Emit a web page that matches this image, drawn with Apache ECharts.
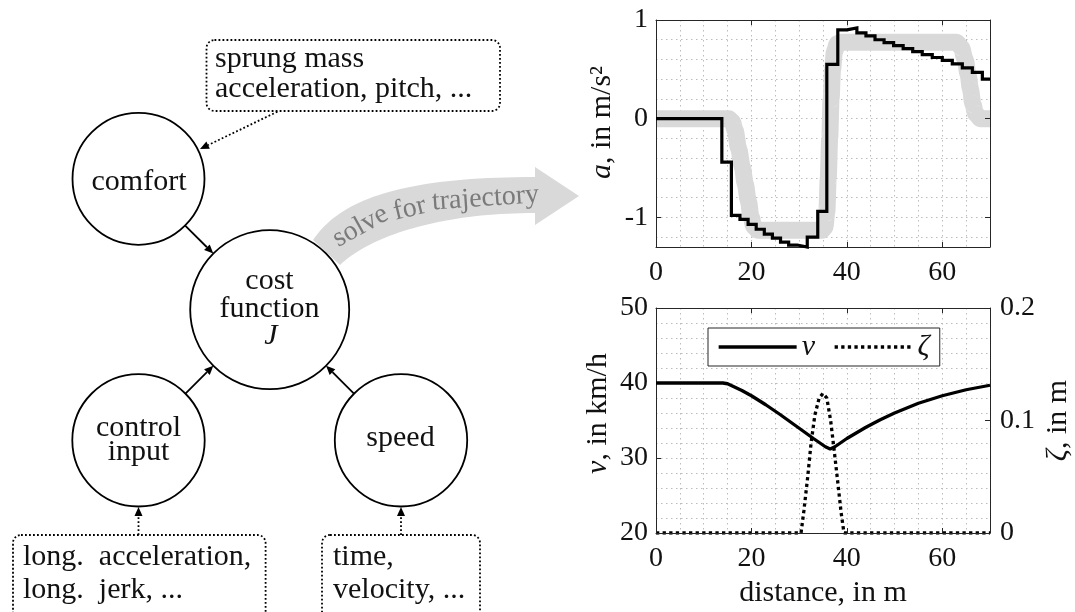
<!DOCTYPE html>
<html><head><meta charset="utf-8">
<script src="https://cdn.jsdelivr.net/npm/echarts@6/dist/echarts.min.js"></script>
<style>html,body{margin:0;padding:0;background:#fff}#c{width:1075px;height:612px}</style>
</head><body><div id="c"></div>
<script>
// ---------- data ----------
// acceleration command (step-wise), distance in m / value in m/s^2
const accX = [0, 13.8, 15.8, 17.6, 19.3, 21.0, 22.7, 24.4, 26.1, 27.8, 29.6, 31.7, 33.9, 35.8, 38.1, 40.0, 42.1, 44.0, 45.9, 47.8, 49.8, 51.8, 53.8, 55.8, 57.9, 60.0, 62.1, 64.2, 66.3, 68.4, 70];
const accY = [0, -0.44, -0.98, -1.02, -1.07, -1.12, -1.17, -1.21, -1.25, -1.28, -1.30, -1.20, -0.94, 0.55, 0.90, 0.92, 0.87, 0.84, 0.80, 0.77, 0.74, 0.71, 0.68, 0.65, 0.62, 0.59, 0.555, 0.515, 0.47, 0.40, 0.40];
// smooth reference acceleration (thick grey band)
const refX = [0, 15.3, 16.0, 16.6, 17.3, 18.1, 18.7, 19.35, 19.9, 20.5, 21.3, 34.8, 35.4, 35.8, 36.1, 36.4, 36.7, 37.0, 37.4, 38.0, 38.8, 63.0, 64.0, 64.8, 65.4, 65.9, 66.4, 67.0, 68.0, 70];
const refY = [0, 0, -0.03, -0.12, -0.30, -0.49, -0.66, -0.83, -0.99, -1.09, -1.13, -1.13, -1.10, -0.95, -0.60, -0.20, 0.20, 0.50, 0.68, 0.76, 0.775, 0.775, 0.72, 0.60, 0.45, 0.30, 0.15, 0.05, 0, 0];
// speed v in km/h
const vX = [0, 14.0, 15.0, 16.0, 18.0, 20.0, 23.0, 26.0, 29.5, 33.0, 35.5, 36.5, 37.5, 40.0, 44.0, 47.0, 50.0, 55.0, 60.0, 65.0, 70.0];
const vY = [40, 40, 39.9, 39.6, 39.0, 38.3, 37.1, 35.8, 34.2, 32.6, 31.5, 31.2, 31.5, 32.6, 34.1, 35.1, 36.0, 37.3, 38.3, 39.1, 39.7];
// road profile zeta in m
const zetaX = [0, 30.4, 31.0, 31.8, 32.5, 33.3, 34.2, 35.0, 35.8, 36.6, 37.3, 38.1, 38.8, 39.4, 70];
const zetaY = [0, 0, 0.02, 0.05, 0.08, 0.105, 0.12, 0.124, 0.12, 0.10, 0.075, 0.045, 0.018, 0, 0];

const zip = (xs, ys) => xs.map((x, i) => [x, ys[i]]);

// ---------- styles ----------
const FONT = 'Liberation Serif', AX = '#262626', TXT = '#111', GRIDC = '#bcbcbc';
function visAxis(o) {
  return Object.assign({
    type: 'value', z: 3,
    axisLine: {show: true, onZero: false, lineStyle: {color: AX, width: 1}},
    axisTick: {show: true, inside: true, length: 5, lineStyle: {color: AX, width: 1}},
    axisLabel: {show: false}, splitLine: {show: false}
  }, o);
}
function gridAxis(o) {
  return Object.assign({
    type: 'value',
    axisLine: {show: false, onZero: false}, axisTick: {show: false}, axisLabel: {show: false},
    splitLine: {show: true, lineStyle: {color: GRIDC, width: 1, type: [1.5, 3.5]}}
  }, o);
}
const lab = o => Object.assign({show: true, fontFamily: FONT, fontSize: 28, color: TXT}, o);
const nameStyle = o => Object.assign({fontFamily: FONT, fontSize: 30, color: TXT,
  rich: {i: {fontFamily: FONT, fontSize: 30, fontStyle: 'italic', color: TXT}}}, o);

// ---------- diagram (left) ----------
const els = [];
function cubic(p0, p1, p2, p3, n) {
  const out = [];
  for (let i = 0; i <= n; i++) {
    const t = i / n, u = 1 - t;
    out.push([0, 1].map(k => u*u*u*p0[k] + 3*u*u*t*p1[k] + 3*u*t*t*p2[k] + t*t*t*p3[k]));
  }
  return out;
}
// curved grey arrow
const arrowPts = [].concat(
  cubic([313, 240], [340, 200], [400, 177], [535, 177], 40),
  [[535, 167], [579, 196], [535, 225]],
  cubic([535, 213], [440, 213], [370, 236], [340, 265], 40)
);
els.push({type: 'polygon', z: 1, shape: {points: arrowPts}, style: {fill: '#d9d9d9'}});
// words along the arrow centre line
(function () {
  const pts = cubic([326.5, 252.5], [352, 216], [420, 195], [535, 195], 400);
  const N = pts.length - 1, acc = [0];
  for (let i = 1; i <= N; i++) acc.push(acc[i-1] + Math.hypot(pts[i][0]-pts[i-1][0], pts[i][1]-pts[i-1][1]));
  const L1 = acc[N];
  const at = s => {
    if (s >= L1) return {x: 535 + (s - L1), y: 195};
    let i = 0; while (i < N - 1 && acc[i+1] < s) i++;
    const f = (s - acc[i]) / (acc[i+1] - acc[i]);
    return {x: pts[i][0] + f*(pts[i+1][0]-pts[i][0]), y: pts[i][1] + f*(pts[i+1][1]-pts[i][1])};
  };
  const fs = 28;
  const ctx = document.createElement('canvas').getContext('2d');
  ctx.font = fs + 'px "' + FONT + '"';
  const sp = ctx.measureText(' ').width;
  let s = 14;
  ['solve', 'for', 'trajectory'].forEach(w => {
    const wd = ctx.measureText(w).width;
    const a0 = at(s), a1 = at(s + wd), c = at(s + wd / 2);
    const ang = Math.atan2(a1.y - a0.y, a1.x - a0.x);
    const off = 2;
    els.push({type: 'text', z: 2, x: c.x - Math.sin(ang) * off, y: c.y + Math.cos(ang) * off, rotation: -ang,
      style: {text: w, x: 0, y: 0, fontFamily: FONT, fontSize: fs, fill: '#7a7a7a', align: 'center', verticalAlign: 'middle'}});
    s += wd + sp;
  });
})();
// nodes
const circ = (cx, cy, r) => ({type: 'circle', z: 3, shape: {cx, cy, r}, style: {fill: '#fff', stroke: '#000', lineWidth: 1.8}});
els.push(circ(138.5, 178.8, 66), circ(269.7, 309.7, 79.5), circ(138.5, 440.3, 66.2), circ(401, 440.3, 66.2));
const txt = (t, x, y, o) => ({type: 'text', z: 4, x, y, style: Object.assign({text: t, x: 0, y: 0, fontFamily: FONT, fontSize: 30, fill: TXT, align: 'center', verticalAlign: 'middle'}, o || {})});
els.push(txt('comfort', 139, 182), txt('cost', 269.5, 281), txt('function', 269.5, 309),
  txt('J', 271, 336, {fontStyle: 'italic'}), txt('control', 138.5, 428), txt('input', 138.5, 452), txt('speed', 400.5, 438));
// dotted boxes
const box = (x, y, w, h) => ({type: 'rect', z: 3, shape: {x, y, width: w, height: h, r: 8}, style: {fill: 'none', stroke: '#000', lineWidth: 1.8, lineDash: [1.8, 2.2]}});
els.push(box(206.5, 40, 293.5, 71), box(13, 535, 252.6, 110), box(322, 535, 158, 110));
const ltx = (t, x, y) => txt(t, x, y, {align: 'left'});
els.push(ltx('sprung mass', 215, 59), ltx('acceleration, pitch, ...', 215, 89),
  ltx('long.  acceleration,', 23, 557), ltx('long.  jerk, ...', 23, 590),
  ltx('time,', 333, 557), ltx('velocity, ...', 333, 590));
// arrows
function arrow(x1, y1, x2, y2, dotted) {
  const dx = x2 - x1, dy = y2 - y1, L = Math.hypot(dx, dy), ux = dx / L, uy = dy / L;
  const hl = 9, hw = 4, bx = x2 - ux * hl, by = y2 - uy * hl;
  const st = {stroke: '#000', lineWidth: 1.8};
  if (dotted) st.lineDash = [1.8, 2.2];
  els.push({type: 'line', z: 3, shape: {x1, y1, x2: bx, y2: by}, style: st});
  els.push({type: 'polygon', z: 3, shape: {points: [[x2, y2], [bx - uy * hw, by + ux * hw], [bx + uy * hw, by - ux * hw]]}, style: {fill: '#000'}});
}
arrow(277.4, 111.7, 200, 149, true);
arrow(185.2, 225.6, 213.3, 253.6);
arrow(185.2, 393.8, 213.3, 365.7);
arrow(354.2, 393.8, 326.1, 365.7);
arrow(138.5, 535, 138.5, 507, true);
arrow(401, 535, 401, 507, true);

// ---------- charts ----------
const option = {
  animation: false,
  backgroundColor: '#fff',
  grid: [
    {left: 656, top: 20, width: 334, height: 227, outerBoundsMode: 'none', containLabel: false},
    {left: 656, top: 308, width: 334, height: 225, outerBoundsMode: 'none', containLabel: false}
  ],
  legend: {
    left: 708, top: 328, itemWidth: 78, itemHeight: 14, itemGap: 18, padding: [4, 10, 4, 9],
    borderColor: AX, borderWidth: 1, borderRadius: 0, backgroundColor: '#fff', selectedMode: false,
    textStyle: {fontFamily: FONT, fontSize: 30, fontStyle: 'italic', color: TXT},
    itemStyle: {opacity: 0},
    data: [{name: 'v', lineStyle: {type: 'solid', width: 3.3, color: '#000'}},
           {name: 'ζ', lineStyle: {type: 'dotted', width: 3.3, color: '#000'}}]
  },
  xAxis: [
    visAxis({gridIndex: 0, min: 0, max: 70, interval: 20, position: 'bottom', axisLabel: lab({margin: 12, showMaxLabel: false})}),
    visAxis({gridIndex: 0, min: 0, max: 70, interval: 20, position: 'top'}),
    gridAxis({gridIndex: 0, min: 0, max: 70, interval: 5, position: 'bottom'}),
    visAxis({gridIndex: 1, min: 0, max: 70, interval: 20, position: 'bottom', axisLabel: lab({margin: 12, showMaxLabel: false}),
      name: 'distance, in m', nameLocation: 'middle', nameGap: 45, nameTextStyle: nameStyle({})}),
    visAxis({gridIndex: 1, min: 0, max: 70, interval: 20, position: 'top'}),
    gridAxis({gridIndex: 1, min: 0, max: 70, interval: 5, position: 'bottom'})
  ],
  yAxis: [
    visAxis({gridIndex: 0, min: -1.3, max: 1, minInterval: 1, maxInterval: 1, position: 'left',
      axisLabel: lab({margin: 8, showMinLabel: false}),
      name: '{i|a}, in m/s²', nameLocation: 'middle', nameRotate: 90, nameGap: 39, nameTextStyle: nameStyle({padding: [0, 0, 0, 22]})}),
    visAxis({gridIndex: 0, min: -1.3, max: 1, minInterval: 1, maxInterval: 1, position: 'right'}),
    gridAxis({gridIndex: 0, min: -1.3, max: 1, minInterval: 0.2, maxInterval: 0.2, position: 'left'}),
    visAxis({gridIndex: 1, min: 20, max: 50, interval: 10, position: 'left', axisLabel: lab({margin: 8}),
      name: '{i|v}, in km/h', nameLocation: 'middle', nameRotate: 90, nameGap: 43, nameTextStyle: nameStyle({padding: [0, 0, 0, 14]})}),
    visAxis({gridIndex: 1, min: 0, max: 0.2, interval: 0.1, position: 'right', axisLabel: lab({margin: 10}),
      name: '{i|ζ}, in m', nameLocation: 'middle', nameRotate: 90, nameGap: 53, nameTextStyle: nameStyle({})}),
    gridAxis({gridIndex: 1, min: 20, max: 50, interval: 2, position: 'left'})
  ],
  series: [
    {name: 'reference', type: 'line', xAxisIndex: 0, yAxisIndex: 0, data: zip(refX, refY), symbol: 'none',
      smooth: 0.3, smoothMonotone: 'x', z: 2, lineStyle: {color: '#d9d9d9', width: 17, join: 'round', cap: 'butt'}},
    {name: 'a', type: 'line', xAxisIndex: 0, yAxisIndex: 0, data: zip(accX, accY), symbol: 'none', step: 'end',
      clip: false, z: 3, lineStyle: {color: '#000', width: 3.2, join: 'miter'}},
    {name: 'ζ', type: 'line', xAxisIndex: 3, yAxisIndex: 4, data: zip(zetaX, zetaY), symbol: 'none',
      z: 2, lineStyle: {color: '#000', width: 3.3, type: 'dotted'}},
    {name: 'v', type: 'line', xAxisIndex: 3, yAxisIndex: 3, data: zip(vX, vY), symbol: 'none',
      z: 3, lineStyle: {color: '#000', width: 3.3}}
  ],
  graphic: {elements: els}
};
const chart = echarts.init(document.getElementById('c'), null, {renderer: 'canvas', width: 1075, height: 612});
chart.setOption(option);
</script>
</body></html>
